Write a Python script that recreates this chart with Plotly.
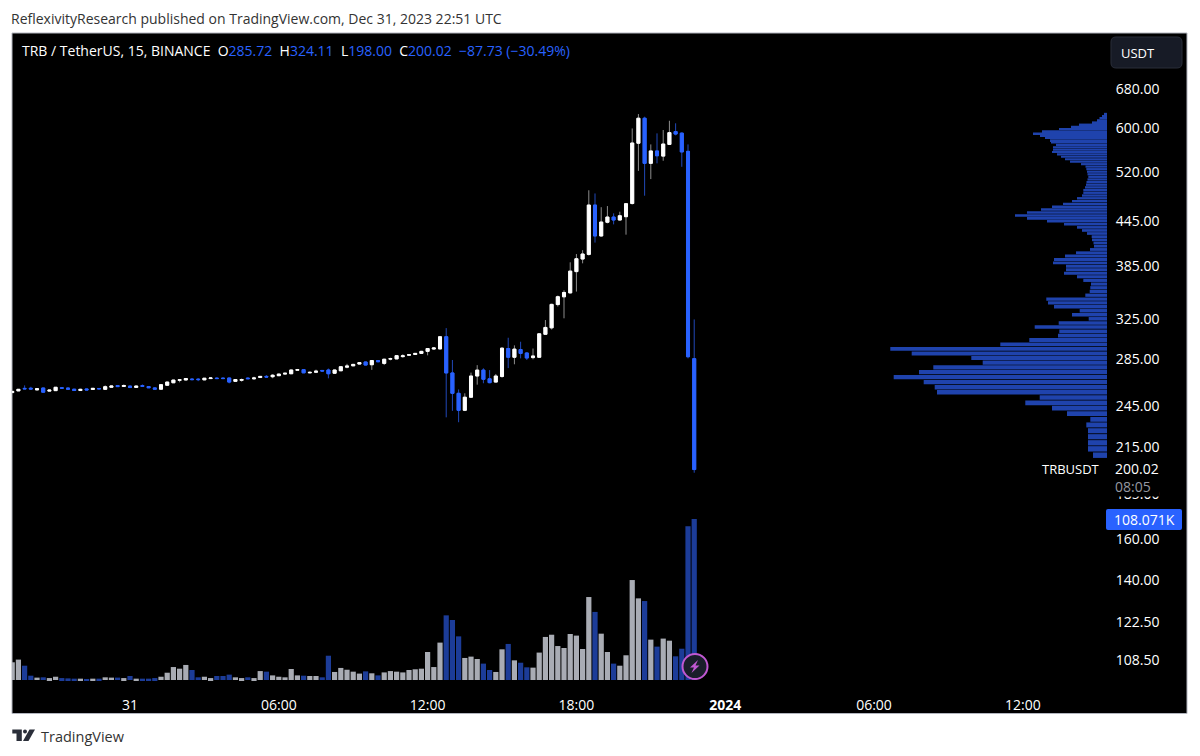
import pandas as pd
import plotly.graph_objects as go

WIDTH = 1200
HEIGHT = 756

UP = "#ffffff"
DOWN = "#2962ff"
UP_WICK = "#8c8c8c"
DOWN_WICK = "#2148b8"
UP_VOLUME = "#a9acb4"
DOWN_VOLUME = "#1c3c98"
PROFILE = "#1f43ad"
FONT = "Open Sans"

opens = [
    256.2, 257.6, 259.7, 259.8, 258.4, 260, 257.4, 257.8, 260.2, 260,
    259, 257.9, 259.2, 258.8, 259.6, 258.9, 260.6, 262, 261.3, 261.6,
    260.5, 262, 261.2, 260.1, 259, 262.3, 264.4, 266.5, 266.8, 267.6,
    267.5, 266.9, 268, 268.4, 268.4, 268.5, 265.6, 266.5, 268.4, 267.8,
    268.9, 269.9, 269.6, 270.5, 271.9, 272.2, 275.3, 275.8, 273, 273.5,
    275.1, 275.5, 272.6, 274.8, 278, 279.2, 280.8, 282.7, 280.2, 284,
    281.4, 285.3, 285.5, 287.6, 288.9, 289.6, 290.6, 292.5, 294.7, 294.8,
    306.6, 272.9, 255.6, 242, 252.4, 270.2, 275.4, 267.8, 265, 269.8,
    295.2, 287, 294.2, 291, 286.7, 287, 309, 315.5, 340, 348.6,
    353, 378, 393.6, 399.5, 468.2, 423.9, 443, 450.5, 446.2, 451,
    470.5, 571.2, 619, 535.4, 557.2, 548, 569, 593, 590, 556.5, 285.72,
]
highs = [
    257.4, 259.2, 262.2, 261, 259.7, 260.2, 258.5, 260.8, 260.5, 260.3,
    259.2, 259.4, 259.5, 260, 259.9, 262.2, 262.1, 262.4, 263, 262,
    262, 263, 261.5, 260.4, 263, 265.2, 267, 267.3, 268.2, 268.2,
    268.3, 268.5, 269.2, 269, 269, 268.7, 267.6, 268, 269, 269.6,
    270.2, 271, 271.8, 272.2, 272.8, 275.8, 276.4, 276, 274.2, 275.8,
    275.5, 276.8, 275.8, 278.7, 281, 281, 282.4, 283, 284.2, 284.4,
    285.5, 286.6, 288.8, 289.8, 289.7, 290.9, 293, 295.6, 296.5, 307.2,
    315.2, 284.5, 258.8, 255.6, 273.2, 279.8, 277, 275.4, 272, 296.4,
    305.6, 298.2, 301.7, 291.8, 295.2, 310.2, 323.5, 340.9, 350, 356,
    389.5, 400, 405, 491, 486, 465, 466.7, 455.9, 458.3, 470.9,
    599, 627.4, 622, 569, 589.6, 596, 614, 609, 591.4, 569, 324.11,
]
lows = [
    256, 257.4, 259, 258.6, 258.2, 256.3, 257.2, 257.6, 259.6, 258.8,
    257.7, 257.7, 258.2, 258.6, 259.1, 258.7, 260.4, 261, 261, 259.9,
    260.2, 261.1, 260, 258.8, 258.8, 262.1, 264.2, 264.8, 266.5, 266.6,
    265.8, 266.6, 267.6, 267.7, 267.7, 263.9, 265.4, 265.4, 267.6, 267,
    268.7, 268.6, 268.3, 270.3, 271.7, 272, 275.1, 272.8, 272.6, 272.8,
    274.3, 268.2, 272.4, 274.6, 277, 279, 280.6, 279.7, 275.6, 282.6,
    279.9, 284.2, 285.3, 286.6, 288.7, 289.4, 290.3, 288.8, 294, 294.6,
    236.6, 241.6, 232.9, 241.4, 252, 262.8, 264, 264, 264.8, 268.7,
    277.2, 280.6, 286, 284.5, 285.1, 286.9, 308.6, 313.8, 337.9, 325.3,
    352.5, 354.5, 388.2, 398, 415, 423, 441.5, 440, 445.8, 425.7,
    469, 522.6, 482.5, 509, 535.4, 539.9, 568, 585.8, 529.5, 286, 198,
]
closes = [
    257.2, 258.9, 259.3, 259.2, 259.4, 256.5, 258.2, 260.6, 259.8, 259,
    257.9, 258.9, 258.4, 259.7, 259.3, 261.1, 261.7, 261.2, 262.1, 260.4,
    261.6, 261.4, 260.2, 259, 262.8, 265, 266.7, 267, 268, 267.1,
    267.1, 268.3, 268.5, 268, 268, 265, 267.2, 267.2, 267.9, 268.5,
    269.9, 269.3, 270.9, 271.9, 272.6, 275.5, 275.8, 273, 273.4, 274.4,
    274.6, 272.2, 275.5, 278.4, 279, 280.5, 282.1, 279.9, 284, 282.9,
    285.2, 285.7, 288.5, 288.3, 289.4, 290.6, 292.5, 295.2, 295.7, 306.6,
    272.9, 255.6, 242, 252.4, 270.2, 275.4, 267.4, 264.5, 270.2, 295.5,
    287, 294.6, 290.6, 286.3, 288.2, 309.5, 315.9, 340.2, 348.7, 353.5,
    378.6, 394, 400, 468.2, 423.9, 443.3, 450.5, 446.2, 452.4, 470.3,
    571.6, 619, 535.4, 557.2, 548.6, 569.7, 591, 588.3, 555.4, 287.5, 200.02,
]
# thousands of TRB per 15 minute bar
volumes = [
    11.9, 13.7, 9.6, 2.9, 1.6, 1.8, 1.3, 2.2, 1.3, 1.1,
    0.9, 0.9, 0.7, 0.9, 0.9, 1.8, 1.6, 1.6, 1.3, 2.7,
    0.9, 0.9, 0.9, 1.3, 2.2, 4.9, 8.7, 7.6, 10.1, 6.7,
    1.8, 2.2, 1.3, 2.7, 2.7, 3.6, 1.8, 1.3, 1.8, 1.3,
    6.0, 5.6, 3.1, 2.2, 1.8, 7.4, 3.1, 2.9, 2.7, 2.7,
    1.8, 16.3, 5.4, 8.1, 6.9, 5.6, 4.3, 5.8, 4.5, 3.1,
    5.1, 6.0, 5.6, 5.1, 6.7, 7.2, 7.6, 18.8, 8.7, 25.1,
    43.4, 40.3, 29.3, 14.8, 15.7, 14.1, 11.0, 6.7, 5.4, 20.6,
    24.2, 13.2, 11.6, 8.5, 8.3, 18.4, 28.9, 30.4, 22.8, 21.5,
    30.9, 29.8, 20.8, 55.7, 45.7, 31.1, 18.8, 11.0, 9.6, 16.6,
    67.1, 54.8, 53.0, 27.1, 22.4, 27.8, 26.4, 15.9, 21.0, 103.2, 108.071,
]

profile_prices = [
    209.5, 213.8, 218.0, 222.3, 226.6, 230.9, 235.1, 239.4, 243.7, 247.9,
    252.2, 256.5, 260.7, 265.0, 269.3, 273.6, 277.8, 282.1, 286.4, 290.6,
    294.9, 299.2, 303.4, 307.7, 312.0, 316.3, 320.5, 324.8, 329.1, 333.3,
    337.6, 341.9, 346.1, 350.4, 354.7, 358.9, 363.2, 367.5, 371.8, 376.0,
    380.3, 384.6, 388.8, 393.1, 397.4, 401.6, 405.9, 410.2, 414.5, 418.7,
    423.0, 427.3, 431.5, 435.8, 440.1, 444.4, 448.6, 452.9, 457.2, 461.4,
    465.7, 470.0, 474.2, 478.5, 482.8, 487.1, 491.3, 495.6, 499.9, 504.1,
    508.4, 512.7, 516.9, 521.2, 525.5, 529.8, 534.0, 538.3, 542.6, 546.8,
    551.1, 555.4, 559.6, 563.9, 568.2, 572.5, 576.7, 581.0, 585.3, 589.5,
    593.8, 598.1, 602.3, 606.6, 610.9, 615.2, 619.4, 623.7, 628.0,
]
profile_volumes = [
    14, 19, 19, 19, 19, 20.7, 16.7, 40, 55, 81.7,
    67.3, 170, 172.3, 183.3, 213.3, 188, 173.7, 124.3, 135.7, 195.3,
    216.7, 106.7, 77.7, 49, 47.7, 72.3, 48.3, 18.3, 35, 27.3,
    53, 59, 60.7, 21.7, 17.3, 16.7, 16, 23.7, 30, 43,
    41, 41, 54, 53, 42, 31, 17, 13, 13.5, 15,
    15.3, 20, 25, 30, 43, 60, 80, 92, 80, 66,
    55, 44, 35, 30, 25, 23.7, 23.7, 22, 21, 20.5,
    19.5, 18.7, 19.5, 20, 20.7, 21.5, 26, 37, 42, 46,
    50, 55, 54, 54, 51, 56, 57, 62, 67, 74,
    65, 48, 36, 28, 15, 10, 7.5, 5, 3,
]

price_ticks = [680, 600, 520, 445, 385, 325, 285, 245, 215, 185, 160, 140, 122.5, 108.5]
time_ticks = ["2023-12-31 00:00", "2023-12-31 06:00", "2023-12-31 12:00", "2023-12-31 18:00",
              "2024-01-01 00:00", "2024-01-01 06:00", "2024-01-01 12:00"]
time_labels = ["31", "06:00", "12:00", "18:00", "<b>2024</b>", "06:00", "12:00"]

times = pd.date_range("2023-12-30 19:15", periods=len(opens), freq="15min")


def px_x(x):
    return x / WIDTH


def px_y(y):
    return 1 - y / HEIGHT


def path(points):
    return "M" + " L".join(f"{px_x(x):.5f},{px_y(y):.5f}" for x, y in points) + " Z"


def rounded_box(x0, y0, x1, y1, r):
    return (f"M{px_x(x0 + r):.5f},{px_y(y0):.5f} L{px_x(x1 - r):.5f},{px_y(y0):.5f} "
            f"Q{px_x(x1):.5f},{px_y(y0):.5f} {px_x(x1):.5f},{px_y(y0 + r):.5f} "
            f"L{px_x(x1):.5f},{px_y(y1 - r):.5f} Q{px_x(x1):.5f},{px_y(y1):.5f} {px_x(x1 - r):.5f},{px_y(y1):.5f} "
            f"L{px_x(x0 + r):.5f},{px_y(y1):.5f} Q{px_x(x0):.5f},{px_y(y1):.5f} {px_x(x0):.5f},{px_y(y1 - r):.5f} "
            f"L{px_x(x0):.5f},{px_y(y0 + r):.5f} Q{px_x(x0):.5f},{px_y(y0):.5f} {px_x(x0 + r):.5f},{px_y(y0):.5f} Z")


def label(text, x, y, size=14, color="white", anchor="left", **kwargs):
    fig.add_annotation(text=text, xref="paper", yref="paper", x=px_x(x), y=px_y(y),
                       xanchor=anchor, yanchor="middle", showarrow=False,
                       font=dict(family=FONT, size=size, color=color), **kwargs)


fig = go.Figure()

volume_colors = [UP_VOLUME if c >= o else DOWN_VOLUME for o, c in zip(opens, closes)]
fig.add_trace(go.Bar(x=times, y=volumes, yaxis="y2", marker_color=volume_colors,
                     marker_line_width=0, width=15 * 60 * 1000 * 0.84))

# wicks are dimmer than bodies, so draw them as a separate candlestick underneath
fig.add_trace(go.Candlestick(
    x=times, open=opens, high=highs, low=lows, close=closes, whiskerwidth=0,
    increasing=dict(line=dict(color=UP_WICK, width=1), fillcolor=UP_WICK),
    decreasing=dict(line=dict(color=DOWN_WICK, width=1), fillcolor=DOWN_WICK),
))
fig.add_trace(go.Candlestick(
    x=times, open=opens, close=closes, whiskerwidth=0,
    high=[max(o, c) for o, c in zip(opens, closes)],
    low=[min(o, c) for o, c in zip(opens, closes)],
    increasing=dict(line=dict(color=UP, width=1), fillcolor=UP),
    decreasing=dict(line=dict(color=DOWN, width=1), fillcolor=DOWN),
))

fig.add_trace(go.Bar(x=profile_volumes, y=profile_prices, orientation="h", xaxis="x2",
                     marker_color=PROFILE, marker_line_width=0, width=3.7))

fig.update_layout(
    width=WIDTH, height=HEIGHT,
    margin=dict(l=0, r=0, t=0, b=0),
    paper_bgcolor="white",
    plot_bgcolor="rgba(0,0,0,0)",
    showlegend=False,
    boxgap=0.3,
    font=dict(family=FONT, size=14, color="white"),
    xaxis=dict(
        domain=[px_x(12), px_x(1107)],
        range=["2023-12-30 19:14:30", "2024-01-01 15:23:40"],
        type="date", rangeslider_visible=False, showgrid=False, zeroline=False, showline=False,
        tickmode="array", tickvals=time_ticks, ticktext=time_labels,
        ticks="outside", ticklen=9, tickcolor="black", tickfont=dict(size=14, color="white"),
    ),
    xaxis2=dict(domain=[px_x(12), px_x(1107)], range=[1095, 0], overlaying="x", visible=False),
    yaxis=dict(
        domain=[px_y(683), px_y(33)],
        type="log", range=[2.00302, 2.91071],
        side="right", showgrid=False, zeroline=False, showline=False,
        tickmode="array", tickvals=price_ticks, ticktext=[f"{t:.2f}" for t in price_ticks],
        ticks="outside", ticklen=5, tickcolor="black", tickfont=dict(size=14, color="white"),
    ),
    yaxis2=dict(domain=[px_y(683), px_y(33)], range=[-2.01, 434.3], overlaying="y", visible=False),
    shapes=[
        dict(type="rect", xref="paper", yref="paper", layer="below",
             x0=px_x(12), x1=px_x(1187), y0=px_y(713.5), y1=px_y(33),
             fillcolor="black", line=dict(color="#b2b5be", width=1)),
        # USDT button
        dict(type="path", xref="paper", yref="paper", path=rounded_box(1111, 37, 1182, 68, 5),
             fillcolor="#171b26", line=dict(color="#2a2e39", width=1)),
        # last volume label
        dict(type="path", xref="paper", yref="paper", path=rounded_box(1106, 509, 1182, 530, 2),
             fillcolor=DOWN, line=dict(width=0)),
        # lightning badge
        dict(type="circle", xref="paper", yref="paper",
             x0=px_x(682.5), x1=px_x(707.5), y0=px_y(679), y1=px_y(654),
             fillcolor="#1a1e2b", line=dict(color="#c058d2", width=2)),
        dict(type="path", xref="paper", yref="paper", fillcolor="#c058d2", line=dict(width=0),
             path=path([(698, 660), (690, 667.5), (694, 667.5), (691.5, 673), (699.5, 665.5), (695.5, 665.5)])),
        # TradingView mark
        dict(type="path", xref="paper", yref="paper", fillcolor="#2a2e39", line=dict(width=0),
             path=path([(12.3, 729.5), (21.8, 729.5), (21.8, 741), (16.5, 741), (16.5, 733.5), (12.3, 733.5)])),
        dict(type="circle", xref="paper", yref="paper", fillcolor="#2a2e39", line=dict(width=0),
             x0=px_x(23), x1=px_x(27), y0=px_y(733.5), y1=px_y(729.5)),
        dict(type="path", xref="paper", yref="paper", fillcolor="#2a2e39", line=dict(width=0),
             path=path([(29.5, 729.5), (35, 729.5), (28.5, 741), (23, 741)])),
    ],
)

label("ReflexivityResearch published on TradingView.com, Dec 31, 2023 22:51 UTC", 9, 18, size=14, color="#333333")
blue = 'style="color:#2962ff"'
label(f'TRB / TetherUS, 15, BINANCE  O<span {blue}>285.72</span>  H<span {blue}>324.11</span>  '
      f'L<span {blue}>198.00</span>  C<span {blue}>200.02</span>  '
      f'<span {blue}>−87.73 (−30.49%)</span>', 20, 51, size=14)
label("USDT", 1138, 53, size=13, anchor="center")
label("TRBUSDT", 1040, 469, size=13)
label("200.02<br><span style='color:#9598a1'>08:05</span>", 1114, 477.5, size=14,
      align="left", bgcolor="black", borderpad=0)
label("108.071K", 1112, 519.5, size=14)
label("TradingView", 39, 736, size=14.5, color="#333333")

fig.write_html("out.html", post_script="document.body.style.margin='0';",
               config=dict(displayModeBar=False))
